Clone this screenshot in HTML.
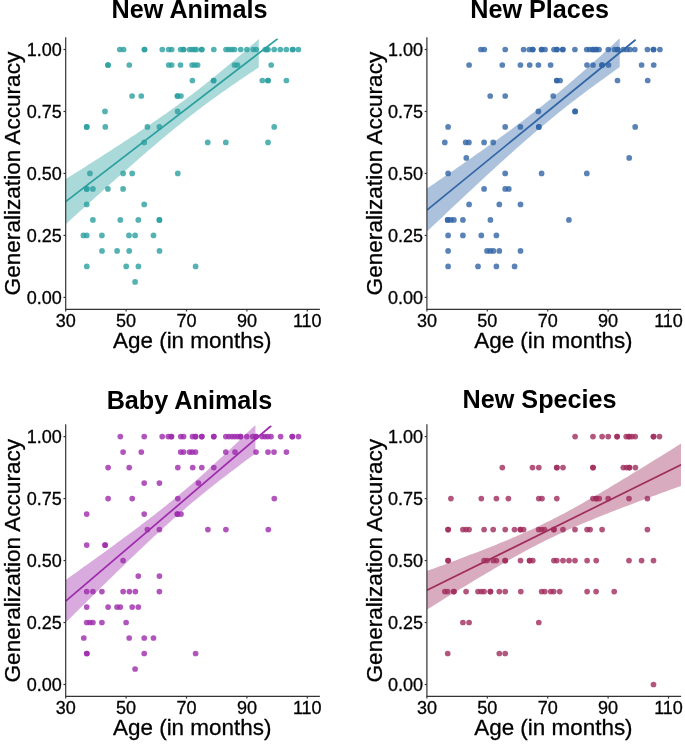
<!DOCTYPE html><html><head><meta charset="utf-8"><style>html,body{margin:0;padding:0;background:#fff;}svg{display:block;will-change:transform;}</style></head><body>
<svg width="685" height="744" viewBox="0 0 685 744" font-family='"Liberation Sans", sans-serif'>
<rect width="685" height="744" fill="#fff"/>
<clipPath id="cNewAnimals"><rect x="65.7" y="38.50" width="254.2" height="270.80"/></clipPath>
<g fill="#2A9F9F" fill-opacity="0.8">
<circle cx="201.7" cy="49.50" r="2.85"/>
<circle cx="266.5" cy="49.50" r="2.85"/>
<circle cx="119.8" cy="49.50" r="2.85"/>
<circle cx="123.6" cy="49.50" r="2.85"/>
<circle cx="144.5" cy="49.50" r="2.85"/>
<circle cx="144.5" cy="49.50" r="2.85"/>
<circle cx="162.3" cy="49.50" r="2.85"/>
<circle cx="168.7" cy="49.50" r="2.85"/>
<circle cx="171.7" cy="49.50" r="2.85"/>
<circle cx="180.6" cy="49.50" r="2.85"/>
<circle cx="183.5" cy="49.50" r="2.85"/>
<circle cx="183.5" cy="49.50" r="2.85"/>
<circle cx="189.5" cy="49.50" r="2.85"/>
<circle cx="192.1" cy="49.50" r="2.85"/>
<circle cx="194.6" cy="49.50" r="2.85"/>
<circle cx="196.2" cy="49.50" r="2.85"/>
<circle cx="201.7" cy="49.50" r="2.85"/>
<circle cx="213.8" cy="49.50" r="2.85"/>
<circle cx="226.0" cy="49.50" r="2.85"/>
<circle cx="228.9" cy="49.50" r="2.85"/>
<circle cx="231.8" cy="49.50" r="2.85"/>
<circle cx="234.5" cy="49.50" r="2.85"/>
<circle cx="240.7" cy="49.50" r="2.85"/>
<circle cx="246.9" cy="49.50" r="2.85"/>
<circle cx="253.3" cy="49.50" r="2.85"/>
<circle cx="256.2" cy="49.50" r="2.85"/>
<circle cx="265.3" cy="49.50" r="2.85"/>
<circle cx="268.0" cy="49.50" r="2.85"/>
<circle cx="274.2" cy="49.50" r="2.85"/>
<circle cx="280.3" cy="49.50" r="2.85"/>
<circle cx="286.3" cy="49.50" r="2.85"/>
<circle cx="292.7" cy="49.50" r="2.85"/>
<circle cx="292.7" cy="49.50" r="2.85"/>
<circle cx="298.4" cy="49.50" r="2.85"/>
<circle cx="108.0" cy="64.99" r="2.85"/>
<circle cx="108.0" cy="64.99" r="2.85"/>
<circle cx="129.3" cy="64.99" r="2.85"/>
<circle cx="168.7" cy="64.99" r="2.85"/>
<circle cx="171.7" cy="64.99" r="2.85"/>
<circle cx="180.5" cy="64.99" r="2.85"/>
<circle cx="192.1" cy="64.99" r="2.85"/>
<circle cx="194.8" cy="64.99" r="2.85"/>
<circle cx="197.6" cy="64.99" r="2.85"/>
<circle cx="234.5" cy="64.99" r="2.85"/>
<circle cx="237.5" cy="64.99" r="2.85"/>
<circle cx="271.2" cy="64.99" r="2.85"/>
<circle cx="192.4" cy="80.49" r="2.85"/>
<circle cx="213.6" cy="80.49" r="2.85"/>
<circle cx="213.6" cy="80.49" r="2.85"/>
<circle cx="262.3" cy="80.49" r="2.85"/>
<circle cx="268.0" cy="80.49" r="2.85"/>
<circle cx="268.0" cy="80.49" r="2.85"/>
<circle cx="286.4" cy="80.49" r="2.85"/>
<circle cx="132.1" cy="95.98" r="2.85"/>
<circle cx="141.3" cy="95.98" r="2.85"/>
<circle cx="177.5" cy="95.98" r="2.85"/>
<circle cx="177.5" cy="95.98" r="2.85"/>
<circle cx="180.9" cy="95.98" r="2.85"/>
<circle cx="105.0" cy="111.47" r="2.85"/>
<circle cx="177.6" cy="111.47" r="2.85"/>
<circle cx="86.7" cy="126.97" r="2.85"/>
<circle cx="86.7" cy="126.97" r="2.85"/>
<circle cx="105.3" cy="126.97" r="2.85"/>
<circle cx="147.4" cy="126.97" r="2.85"/>
<circle cx="159.4" cy="126.97" r="2.85"/>
<circle cx="274.2" cy="126.97" r="2.85"/>
<circle cx="144.2" cy="142.46" r="2.85"/>
<circle cx="207.7" cy="142.46" r="2.85"/>
<circle cx="225.8" cy="142.46" r="2.85"/>
<circle cx="268.0" cy="142.46" r="2.85"/>
<circle cx="89.9" cy="173.45" r="2.85"/>
<circle cx="123.1" cy="173.45" r="2.85"/>
<circle cx="132.2" cy="173.45" r="2.85"/>
<circle cx="177.8" cy="173.45" r="2.85"/>
<circle cx="86.7" cy="188.94" r="2.85"/>
<circle cx="86.7" cy="188.94" r="2.85"/>
<circle cx="92.9" cy="188.94" r="2.85"/>
<circle cx="107.9" cy="188.94" r="2.85"/>
<circle cx="123.1" cy="188.94" r="2.85"/>
<circle cx="86.7" cy="204.44" r="2.85"/>
<circle cx="144.2" cy="204.44" r="2.85"/>
<circle cx="92.9" cy="219.93" r="2.85"/>
<circle cx="120.3" cy="219.93" r="2.85"/>
<circle cx="138.3" cy="219.93" r="2.85"/>
<circle cx="159.4" cy="219.93" r="2.85"/>
<circle cx="159.4" cy="219.93" r="2.85"/>
<circle cx="83.4" cy="235.42" r="2.85"/>
<circle cx="86.7" cy="235.42" r="2.85"/>
<circle cx="101.9" cy="235.42" r="2.85"/>
<circle cx="129.0" cy="235.42" r="2.85"/>
<circle cx="135.1" cy="235.42" r="2.85"/>
<circle cx="153.5" cy="235.42" r="2.85"/>
<circle cx="102.0" cy="250.92" r="2.85"/>
<circle cx="117.1" cy="250.92" r="2.85"/>
<circle cx="129.2" cy="250.92" r="2.85"/>
<circle cx="159.5" cy="250.92" r="2.85"/>
<circle cx="86.8" cy="266.41" r="2.85"/>
<circle cx="126.2" cy="266.41" r="2.85"/>
<circle cx="138.4" cy="266.41" r="2.85"/>
<circle cx="195.6" cy="266.41" r="2.85"/>
<circle cx="135.1" cy="281.91" r="2.85"/>
</g>
<g clip-path="url(#cNewAnimals)">
<polygon points="65.70,179.09 68.11,177.58 70.53,176.05 72.94,174.53 75.36,173.01 77.77,171.48 80.18,169.96 82.60,168.43 85.01,166.90 87.42,165.37 89.84,163.83 92.25,162.30 94.67,160.76 97.08,159.22 99.49,157.67 101.91,156.13 104.32,154.58 106.73,153.03 109.15,151.48 111.56,149.92 113.98,148.36 116.39,146.80 118.80,145.23 121.22,143.66 123.63,142.08 126.04,140.51 128.46,138.92 130.87,137.33 133.29,135.74 135.70,134.14 138.11,132.54 140.53,130.93 142.94,129.31 145.35,127.69 147.77,126.06 150.18,124.42 152.60,122.77 155.01,121.12 157.42,119.46 159.84,117.78 162.25,116.10 164.66,114.41 167.08,112.71 169.49,111.00 171.91,109.27 174.32,107.54 176.73,105.79 179.15,104.03 181.56,102.26 183.97,100.47 186.39,98.67 188.80,96.86 191.22,95.03 193.63,93.19 196.04,91.34 198.46,89.47 200.87,87.59 203.28,85.69 205.70,83.78 208.11,81.86 210.53,79.92 212.94,77.97 215.35,76.01 217.77,74.04 220.18,72.05 222.59,70.05 225.01,68.05 227.42,66.03 229.84,64.00 232.25,61.96 234.66,59.92 237.08,57.86 239.49,55.80 241.90,53.72 244.32,51.64 246.73,49.56 249.15,47.47 251.56,45.37 253.97,43.26 256.39,41.15 258.80,39.03 258.80,67.45 256.39,69.04 253.97,70.64 251.56,72.25 249.15,73.86 246.73,75.48 244.32,77.10 241.90,78.73 239.49,80.37 237.08,82.01 234.66,83.67 232.25,85.33 229.84,87.00 227.42,88.69 225.01,90.38 222.59,92.08 220.18,93.79 217.77,95.52 215.35,97.25 212.94,99.00 210.53,100.76 208.11,102.53 205.70,104.32 203.28,106.12 200.87,107.94 198.46,109.76 196.04,111.60 193.63,113.46 191.22,115.33 188.80,117.21 186.39,119.11 183.97,121.02 181.56,122.94 179.15,124.88 176.73,126.83 174.32,128.79 171.91,130.77 169.49,132.75 167.08,134.75 164.66,136.76 162.25,138.78 159.84,140.81 157.42,142.85 155.01,144.89 152.60,146.95 150.18,149.01 147.77,151.09 145.35,153.17 142.94,155.25 140.53,157.34 138.11,159.44 135.70,161.55 133.29,163.66 130.87,165.78 128.46,167.90 126.04,170.03 123.63,172.16 121.22,174.29 118.80,176.43 116.39,178.57 113.98,180.72 111.56,182.87 109.15,185.02 106.73,187.18 104.32,189.34 101.91,191.50 99.49,193.67 97.08,195.83 94.67,198.00 92.25,200.17 89.84,202.35 87.42,204.52 85.01,206.70 82.60,208.88 80.18,211.06 77.77,213.25 75.36,215.43 72.94,217.62 70.53,219.80 68.11,221.99 65.70,224.18" fill="#2A9F9F" fill-opacity="0.4"/>
<line x1="65.70" y1="201.64" x2="277.80" y2="38.64" stroke="#2A9F9F" stroke-width="1.7"/>
</g>
<g stroke="#333" stroke-width="1.2" fill="none">
<path d="M65.70,37.20V309.30H319.90"/>
<path d="M63.50,297.40H65.70"/>
<path d="M63.50,235.42H65.70"/>
<path d="M63.50,173.45H65.70"/>
<path d="M63.50,111.47H65.70"/>
<path d="M63.50,49.50H65.70"/>
<path d="M65.70,309.30V311.50"/>
<path d="M126.10,309.30V311.50"/>
<path d="M186.50,309.30V311.50"/>
<path d="M246.90,309.30V311.50"/>
<path d="M307.30,309.30V311.50"/>
</g>
<g font-size="18" fill="#000" stroke="#000" stroke-width="0.3">
<text x="61.80" y="304.00" text-anchor="end">0.00</text>
<text x="61.80" y="242.02" text-anchor="end">0.25</text>
<text x="61.80" y="180.05" text-anchor="end">0.50</text>
<text x="61.80" y="118.07" text-anchor="end">0.75</text>
<text x="61.80" y="56.10" text-anchor="end">1.00</text>
<text x="65.70" y="326.60" text-anchor="middle">30</text>
<text x="126.10" y="326.60" text-anchor="middle">50</text>
<text x="186.50" y="326.60" text-anchor="middle">70</text>
<text x="246.90" y="326.60" text-anchor="middle">90</text>
<text x="307.30" y="326.60" text-anchor="middle">110</text>
</g>
<text x="192.20" y="347.80" font-size="22.45" stroke="#000" stroke-width="0.3" text-anchor="middle">Age (in months)</text>
<text transform="translate(20.40,173.60) rotate(-90)" font-size="22.6" stroke="#000" stroke-width="0.3" text-anchor="middle">Generalization Accuracy</text>
<text x="189.50" y="18.00" font-size="25.2" font-weight="bold" text-anchor="middle">New Animals</text>
<clipPath id="cNewPlaces"><rect x="426.9" y="38.50" width="254.2" height="270.80"/></clipPath>
<g fill="#3064A5" fill-opacity="0.8">
<circle cx="593.1" cy="49.50" r="2.85"/>
<circle cx="596.1" cy="49.50" r="2.85"/>
<circle cx="480.9" cy="49.50" r="2.85"/>
<circle cx="484.3" cy="49.50" r="2.85"/>
<circle cx="505.2" cy="49.50" r="2.85"/>
<circle cx="523.6" cy="49.50" r="2.85"/>
<circle cx="529.3" cy="49.50" r="2.85"/>
<circle cx="532.7" cy="49.50" r="2.85"/>
<circle cx="532.7" cy="49.50" r="2.85"/>
<circle cx="541.6" cy="49.50" r="2.85"/>
<circle cx="541.6" cy="49.50" r="2.85"/>
<circle cx="545.0" cy="49.50" r="2.85"/>
<circle cx="554.0" cy="49.50" r="2.85"/>
<circle cx="556.9" cy="49.50" r="2.85"/>
<circle cx="556.9" cy="49.50" r="2.85"/>
<circle cx="562.8" cy="49.50" r="2.85"/>
<circle cx="562.8" cy="49.50" r="2.85"/>
<circle cx="574.9" cy="49.50" r="2.85"/>
<circle cx="586.7" cy="49.50" r="2.85"/>
<circle cx="589.6" cy="49.50" r="2.85"/>
<circle cx="593.1" cy="49.50" r="2.85"/>
<circle cx="596.1" cy="49.50" r="2.85"/>
<circle cx="599.0" cy="49.50" r="2.85"/>
<circle cx="608.3" cy="49.50" r="2.85"/>
<circle cx="614.5" cy="49.50" r="2.85"/>
<circle cx="617.6" cy="49.50" r="2.85"/>
<circle cx="617.6" cy="49.50" r="2.85"/>
<circle cx="623.3" cy="49.50" r="2.85"/>
<circle cx="626.7" cy="49.50" r="2.85"/>
<circle cx="630.0" cy="49.50" r="2.85"/>
<circle cx="634.8" cy="49.50" r="2.85"/>
<circle cx="647.4" cy="49.50" r="2.85"/>
<circle cx="653.5" cy="49.50" r="2.85"/>
<circle cx="653.5" cy="49.50" r="2.85"/>
<circle cx="659.9" cy="49.50" r="2.85"/>
<circle cx="469.1" cy="64.99" r="2.85"/>
<circle cx="502.3" cy="64.99" r="2.85"/>
<circle cx="520.4" cy="64.99" r="2.85"/>
<circle cx="529.7" cy="64.99" r="2.85"/>
<circle cx="538.4" cy="64.99" r="2.85"/>
<circle cx="550.6" cy="64.99" r="2.85"/>
<circle cx="587.0" cy="64.99" r="2.85"/>
<circle cx="593.0" cy="64.99" r="2.85"/>
<circle cx="602.0" cy="64.99" r="2.85"/>
<circle cx="602.0" cy="64.99" r="2.85"/>
<circle cx="608.5" cy="64.99" r="2.85"/>
<circle cx="641.6" cy="64.99" r="2.85"/>
<circle cx="653.7" cy="64.99" r="2.85"/>
<circle cx="556.8" cy="80.49" r="2.85"/>
<circle cx="556.8" cy="80.49" r="2.85"/>
<circle cx="560.1" cy="80.49" r="2.85"/>
<circle cx="617.5" cy="80.49" r="2.85"/>
<circle cx="647.7" cy="80.49" r="2.85"/>
<circle cx="490.2" cy="95.98" r="2.85"/>
<circle cx="505.2" cy="95.98" r="2.85"/>
<circle cx="553.2" cy="95.98" r="2.85"/>
<circle cx="538.4" cy="111.47" r="2.85"/>
<circle cx="575.1" cy="111.47" r="2.85"/>
<circle cx="575.1" cy="111.47" r="2.85"/>
<circle cx="448.1" cy="126.97" r="2.85"/>
<circle cx="505.2" cy="126.97" r="2.85"/>
<circle cx="520.4" cy="126.97" r="2.85"/>
<circle cx="538.8" cy="126.97" r="2.85"/>
<circle cx="538.8" cy="126.97" r="2.85"/>
<circle cx="635.2" cy="126.97" r="2.85"/>
<circle cx="444.8" cy="142.46" r="2.85"/>
<circle cx="465.7" cy="142.46" r="2.85"/>
<circle cx="468.9" cy="142.46" r="2.85"/>
<circle cx="484.1" cy="142.46" r="2.85"/>
<circle cx="493.2" cy="142.46" r="2.85"/>
<circle cx="466.3" cy="157.96" r="2.85"/>
<circle cx="629.2" cy="157.96" r="2.85"/>
<circle cx="448.1" cy="173.45" r="2.85"/>
<circle cx="505.2" cy="173.45" r="2.85"/>
<circle cx="541.6" cy="173.45" r="2.85"/>
<circle cx="586.8" cy="173.45" r="2.85"/>
<circle cx="484.1" cy="188.94" r="2.85"/>
<circle cx="505.2" cy="188.94" r="2.85"/>
<circle cx="508.8" cy="188.94" r="2.85"/>
<circle cx="469.1" cy="204.44" r="2.85"/>
<circle cx="499.3" cy="204.44" r="2.85"/>
<circle cx="520.5" cy="204.44" r="2.85"/>
<circle cx="447.7" cy="219.93" r="2.85"/>
<circle cx="447.7" cy="219.93" r="2.85"/>
<circle cx="450.9" cy="219.93" r="2.85"/>
<circle cx="453.9" cy="219.93" r="2.85"/>
<circle cx="462.9" cy="219.93" r="2.85"/>
<circle cx="490.4" cy="219.93" r="2.85"/>
<circle cx="568.9" cy="219.93" r="2.85"/>
<circle cx="448.1" cy="235.42" r="2.85"/>
<circle cx="462.9" cy="235.42" r="2.85"/>
<circle cx="481.3" cy="235.42" r="2.85"/>
<circle cx="496.4" cy="235.42" r="2.85"/>
<circle cx="448.1" cy="250.92" r="2.85"/>
<circle cx="487.0" cy="250.92" r="2.85"/>
<circle cx="490.2" cy="250.92" r="2.85"/>
<circle cx="493.4" cy="250.92" r="2.85"/>
<circle cx="499.3" cy="250.92" r="2.85"/>
<circle cx="520.5" cy="250.92" r="2.85"/>
<circle cx="448.1" cy="266.41" r="2.85"/>
<circle cx="478.0" cy="266.41" r="2.85"/>
<circle cx="496.4" cy="266.41" r="2.85"/>
<circle cx="514.6" cy="266.41" r="2.85"/>
</g>
<g clip-path="url(#cNewPlaces)">
<polygon points="426.90,188.60 429.31,186.96 431.72,185.31 434.13,183.66 436.54,182.01 438.95,180.36 441.36,178.70 443.77,177.05 446.18,175.39 448.59,173.73 451.00,172.07 453.41,170.40 455.82,168.74 458.23,167.07 460.64,165.40 463.05,163.72 465.46,162.05 467.87,160.37 470.28,158.68 472.69,157.00 475.10,155.31 477.51,153.62 479.92,151.92 482.33,150.22 484.74,148.51 487.15,146.80 489.56,145.08 491.97,143.36 494.38,141.64 496.79,139.91 499.20,138.17 501.61,136.43 504.02,134.67 506.43,132.92 508.84,131.15 511.25,129.38 513.66,127.60 516.07,125.81 518.48,124.01 520.89,122.20 523.30,120.39 525.71,118.56 528.12,116.72 530.53,114.87 532.94,113.01 535.35,111.14 537.76,109.25 540.17,107.36 542.58,105.45 544.99,103.53 547.40,101.59 549.81,99.64 552.22,97.68 554.63,95.71 557.04,93.72 559.45,91.72 561.86,89.71 564.27,87.68 566.68,85.64 569.09,83.59 571.50,81.53 573.91,79.46 576.32,77.37 578.73,75.28 581.14,73.17 583.55,71.05 585.96,68.92 588.37,66.79 590.78,64.64 593.19,62.49 595.60,60.33 598.01,58.16 600.42,55.98 602.83,53.80 605.24,51.60 607.65,49.41 610.06,47.20 612.47,45.00 614.88,42.78 617.29,40.56 619.70,38.34 619.70,67.12 617.29,68.83 614.88,70.55 612.47,72.27 610.06,73.99 607.65,75.72 605.24,77.46 602.83,79.20 600.42,80.95 598.01,82.71 595.60,84.48 593.19,86.25 590.78,88.03 588.37,89.82 585.96,91.62 583.55,93.43 581.14,95.24 578.73,97.07 576.32,98.91 573.91,100.76 571.50,102.62 569.09,104.49 566.68,106.37 564.27,108.27 561.86,110.18 559.45,112.10 557.04,114.03 554.63,115.98 552.22,117.94 549.81,119.92 547.40,121.90 544.99,123.90 542.58,125.92 540.17,127.94 537.76,129.98 535.35,132.03 532.94,134.09 530.53,136.17 528.12,138.25 525.71,140.35 523.30,142.46 520.89,144.57 518.48,146.70 516.07,148.84 513.66,150.98 511.25,153.13 508.84,155.30 506.43,157.47 504.02,159.64 501.61,161.83 499.20,164.02 496.79,166.21 494.38,168.42 491.97,170.63 489.56,172.84 487.15,175.06 484.74,177.28 482.33,179.51 479.92,181.74 477.51,183.98 475.10,186.22 472.69,188.47 470.28,190.72 467.87,192.97 465.46,195.22 463.05,197.48 460.64,199.74 458.23,202.00 455.82,204.27 453.41,206.54 451.00,208.81 448.59,211.08 446.18,213.36 443.77,215.63 441.36,217.91 438.95,220.19 436.54,222.48 434.13,224.76 431.72,227.04 429.31,229.33 426.90,231.62" fill="#3064A5" fill-opacity="0.4"/>
<line x1="426.90" y1="210.11" x2="635.60" y2="39.75" stroke="#3064A5" stroke-width="1.7"/>
</g>
<g stroke="#333" stroke-width="1.2" fill="none">
<path d="M426.90,37.20V309.30H681.10"/>
<path d="M424.70,297.40H426.90"/>
<path d="M424.70,235.42H426.90"/>
<path d="M424.70,173.45H426.90"/>
<path d="M424.70,111.47H426.90"/>
<path d="M424.70,49.50H426.90"/>
<path d="M426.90,309.30V311.50"/>
<path d="M487.30,309.30V311.50"/>
<path d="M547.70,309.30V311.50"/>
<path d="M608.10,309.30V311.50"/>
<path d="M668.50,309.30V311.50"/>
</g>
<g font-size="18" fill="#000" stroke="#000" stroke-width="0.3">
<text x="423.00" y="304.00" text-anchor="end">0.00</text>
<text x="423.00" y="242.02" text-anchor="end">0.25</text>
<text x="423.00" y="180.05" text-anchor="end">0.50</text>
<text x="423.00" y="118.07" text-anchor="end">0.75</text>
<text x="423.00" y="56.10" text-anchor="end">1.00</text>
<text x="426.90" y="326.60" text-anchor="middle">30</text>
<text x="487.30" y="326.60" text-anchor="middle">50</text>
<text x="547.70" y="326.60" text-anchor="middle">70</text>
<text x="608.10" y="326.60" text-anchor="middle">90</text>
<text x="668.50" y="326.60" text-anchor="middle">110</text>
</g>
<text x="553.40" y="347.80" font-size="22.45" stroke="#000" stroke-width="0.3" text-anchor="middle">Age (in months)</text>
<text transform="translate(381.60,173.60) rotate(-90)" font-size="22.6" stroke="#000" stroke-width="0.3" text-anchor="middle">Generalization Accuracy</text>
<text x="539.60" y="18.00" font-size="25.2" font-weight="bold" text-anchor="middle">New Places</text>
<clipPath id="cBabyAnimals"><rect x="65.7" y="425.60" width="254.2" height="270.80"/></clipPath>
<g fill="#9E2AAC" fill-opacity="0.8">
<circle cx="201.8" cy="436.60" r="2.85"/>
<circle cx="213.8" cy="436.60" r="2.85"/>
<circle cx="120.3" cy="436.60" r="2.85"/>
<circle cx="144.2" cy="436.60" r="2.85"/>
<circle cx="162.2" cy="436.60" r="2.85"/>
<circle cx="168.3" cy="436.60" r="2.85"/>
<circle cx="171.4" cy="436.60" r="2.85"/>
<circle cx="171.4" cy="436.60" r="2.85"/>
<circle cx="180.8" cy="436.60" r="2.85"/>
<circle cx="183.6" cy="436.60" r="2.85"/>
<circle cx="192.5" cy="436.60" r="2.85"/>
<circle cx="195.5" cy="436.60" r="2.85"/>
<circle cx="195.5" cy="436.60" r="2.85"/>
<circle cx="201.8" cy="436.60" r="2.85"/>
<circle cx="213.8" cy="436.60" r="2.85"/>
<circle cx="225.8" cy="436.60" r="2.85"/>
<circle cx="228.9" cy="436.60" r="2.85"/>
<circle cx="232.0" cy="436.60" r="2.85"/>
<circle cx="234.8" cy="436.60" r="2.85"/>
<circle cx="237.8" cy="436.60" r="2.85"/>
<circle cx="240.5" cy="436.60" r="2.85"/>
<circle cx="240.5" cy="436.60" r="2.85"/>
<circle cx="246.8" cy="436.60" r="2.85"/>
<circle cx="252.7" cy="436.60" r="2.85"/>
<circle cx="256.0" cy="436.60" r="2.85"/>
<circle cx="256.0" cy="436.60" r="2.85"/>
<circle cx="262.0" cy="436.60" r="2.85"/>
<circle cx="265.0" cy="436.60" r="2.85"/>
<circle cx="267.8" cy="436.60" r="2.85"/>
<circle cx="271.0" cy="436.60" r="2.85"/>
<circle cx="280.6" cy="436.60" r="2.85"/>
<circle cx="292.3" cy="436.60" r="2.85"/>
<circle cx="292.3" cy="436.60" r="2.85"/>
<circle cx="298.5" cy="436.60" r="2.85"/>
<circle cx="123.1" cy="452.09" r="2.85"/>
<circle cx="141.3" cy="452.09" r="2.85"/>
<circle cx="180.7" cy="452.09" r="2.85"/>
<circle cx="183.6" cy="452.09" r="2.85"/>
<circle cx="189.5" cy="452.09" r="2.85"/>
<circle cx="192.2" cy="452.09" r="2.85"/>
<circle cx="195.5" cy="452.09" r="2.85"/>
<circle cx="225.8" cy="452.09" r="2.85"/>
<circle cx="235.0" cy="452.09" r="2.85"/>
<circle cx="256.0" cy="452.09" r="2.85"/>
<circle cx="268.0" cy="452.09" r="2.85"/>
<circle cx="274.0" cy="452.09" r="2.85"/>
<circle cx="286.4" cy="452.09" r="2.85"/>
<circle cx="108.1" cy="467.59" r="2.85"/>
<circle cx="129.2" cy="467.59" r="2.85"/>
<circle cx="177.8" cy="467.59" r="2.85"/>
<circle cx="192.7" cy="467.59" r="2.85"/>
<circle cx="201.8" cy="467.59" r="2.85"/>
<circle cx="213.8" cy="467.59" r="2.85"/>
<circle cx="144.2" cy="483.08" r="2.85"/>
<circle cx="159.4" cy="483.08" r="2.85"/>
<circle cx="198.4" cy="483.08" r="2.85"/>
<circle cx="108.1" cy="498.57" r="2.85"/>
<circle cx="132.2" cy="498.57" r="2.85"/>
<circle cx="177.8" cy="498.57" r="2.85"/>
<circle cx="274.3" cy="498.57" r="2.85"/>
<circle cx="86.7" cy="514.07" r="2.85"/>
<circle cx="144.2" cy="514.07" r="2.85"/>
<circle cx="177.4" cy="514.07" r="2.85"/>
<circle cx="177.4" cy="514.07" r="2.85"/>
<circle cx="181.0" cy="514.07" r="2.85"/>
<circle cx="147.4" cy="529.56" r="2.85"/>
<circle cx="159.4" cy="529.56" r="2.85"/>
<circle cx="207.9" cy="529.56" r="2.85"/>
<circle cx="225.9" cy="529.56" r="2.85"/>
<circle cx="268.3" cy="529.56" r="2.85"/>
<circle cx="86.7" cy="545.06" r="2.85"/>
<circle cx="105.1" cy="545.06" r="2.85"/>
<circle cx="105.1" cy="545.06" r="2.85"/>
<circle cx="123.1" cy="560.55" r="2.85"/>
<circle cx="138.3" cy="576.04" r="2.85"/>
<circle cx="159.4" cy="576.04" r="2.85"/>
<circle cx="86.7" cy="591.54" r="2.85"/>
<circle cx="92.9" cy="591.54" r="2.85"/>
<circle cx="101.9" cy="591.54" r="2.85"/>
<circle cx="123.1" cy="591.54" r="2.85"/>
<circle cx="129.4" cy="591.54" r="2.85"/>
<circle cx="135.4" cy="591.54" r="2.85"/>
<circle cx="159.4" cy="591.54" r="2.85"/>
<circle cx="86.7" cy="607.03" r="2.85"/>
<circle cx="108.1" cy="607.03" r="2.85"/>
<circle cx="117.0" cy="607.03" r="2.85"/>
<circle cx="120.3" cy="607.03" r="2.85"/>
<circle cx="132.2" cy="607.03" r="2.85"/>
<circle cx="138.3" cy="607.03" r="2.85"/>
<circle cx="86.7" cy="622.52" r="2.85"/>
<circle cx="89.9" cy="622.52" r="2.85"/>
<circle cx="92.9" cy="622.52" r="2.85"/>
<circle cx="101.9" cy="622.52" r="2.85"/>
<circle cx="126.1" cy="622.52" r="2.85"/>
<circle cx="83.8" cy="638.02" r="2.85"/>
<circle cx="129.2" cy="638.02" r="2.85"/>
<circle cx="144.2" cy="638.02" r="2.85"/>
<circle cx="153.5" cy="638.02" r="2.85"/>
<circle cx="86.8" cy="653.51" r="2.85"/>
<circle cx="86.8" cy="653.51" r="2.85"/>
<circle cx="144.2" cy="653.51" r="2.85"/>
<circle cx="195.6" cy="653.51" r="2.85"/>
<circle cx="135.1" cy="669.01" r="2.85"/>
</g>
<g clip-path="url(#cBabyAnimals)">
<polygon points="65.70,579.93 68.07,578.24 70.44,576.55 72.81,574.85 75.19,573.16 77.56,571.46 79.93,569.76 82.30,568.07 84.67,566.36 87.04,564.66 89.41,562.96 91.78,561.25 94.16,559.54 96.53,557.83 98.90,556.11 101.27,554.40 103.64,552.68 106.01,550.95 108.38,549.23 110.75,547.50 113.12,545.77 115.50,544.03 117.87,542.29 120.24,540.55 122.61,538.80 124.98,537.04 127.35,535.28 129.72,533.52 132.09,531.75 134.47,529.98 136.84,528.19 139.21,526.41 141.58,524.61 143.95,522.81 146.32,521.00 148.69,519.18 151.06,517.35 153.44,515.51 155.81,513.66 158.18,511.81 160.55,509.94 162.92,508.06 165.29,506.16 167.66,504.26 170.03,502.34 172.41,500.41 174.78,498.47 177.15,496.51 179.52,494.54 181.89,492.55 184.26,490.55 186.63,488.53 189.00,486.50 191.38,484.46 193.75,482.40 196.12,480.32 198.49,478.23 200.86,476.13 203.23,474.01 205.60,471.88 207.98,469.74 210.35,467.58 212.72,465.41 215.09,463.23 217.46,461.04 219.83,458.84 222.20,456.63 224.57,454.41 226.94,452.18 229.32,449.94 231.69,447.70 234.06,445.45 236.43,443.19 238.80,440.92 241.17,438.65 243.54,436.37 245.91,434.08 248.29,431.79 250.66,429.50 253.03,427.20 255.40,424.89 255.40,453.58 253.03,455.32 250.66,457.07 248.29,458.83 245.91,460.59 243.54,462.35 241.17,464.12 238.80,465.90 236.43,467.68 234.06,469.47 231.69,471.26 229.32,473.07 226.94,474.88 224.57,476.70 222.20,478.53 219.83,480.37 217.46,482.22 215.09,484.08 212.72,485.95 210.35,487.83 207.98,489.72 205.60,491.63 203.23,493.55 200.86,495.48 198.49,497.43 196.12,499.39 193.75,501.36 191.38,503.35 189.00,505.36 186.63,507.37 184.26,509.41 181.89,511.45 179.52,513.52 177.15,515.59 174.78,517.69 172.41,519.79 170.03,521.91 167.66,524.04 165.29,526.19 162.92,528.35 160.55,530.52 158.18,532.70 155.81,534.89 153.44,537.09 151.06,539.30 148.69,541.52 146.32,543.75 143.95,545.99 141.58,548.24 139.21,550.49 136.84,552.75 134.47,555.02 132.09,557.30 129.72,559.58 127.35,561.86 124.98,564.15 122.61,566.45 120.24,568.75 117.87,571.06 115.50,573.37 113.12,575.68 110.75,578.00 108.38,580.32 106.01,582.64 103.64,584.97 101.27,587.30 98.90,589.63 96.53,591.96 94.16,594.30 91.78,596.64 89.41,598.99 87.04,601.33 84.67,603.68 82.30,606.02 79.93,608.37 77.56,610.73 75.19,613.08 72.81,615.44 70.44,617.79 68.07,620.15 65.70,622.51" fill="#9E2AAC" fill-opacity="0.4"/>
<line x1="65.70" y1="601.22" x2="271.20" y2="425.74" stroke="#9E2AAC" stroke-width="1.7"/>
</g>
<g stroke="#333" stroke-width="1.2" fill="none">
<path d="M65.70,424.30V696.40H319.90"/>
<path d="M63.50,684.50H65.70"/>
<path d="M63.50,622.52H65.70"/>
<path d="M63.50,560.55H65.70"/>
<path d="M63.50,498.57H65.70"/>
<path d="M63.50,436.60H65.70"/>
<path d="M65.70,696.40V698.60"/>
<path d="M126.10,696.40V698.60"/>
<path d="M186.50,696.40V698.60"/>
<path d="M246.90,696.40V698.60"/>
<path d="M307.30,696.40V698.60"/>
</g>
<g font-size="18" fill="#000" stroke="#000" stroke-width="0.3">
<text x="61.80" y="691.10" text-anchor="end">0.00</text>
<text x="61.80" y="629.12" text-anchor="end">0.25</text>
<text x="61.80" y="567.15" text-anchor="end">0.50</text>
<text x="61.80" y="505.18" text-anchor="end">0.75</text>
<text x="61.80" y="443.20" text-anchor="end">1.00</text>
<text x="65.70" y="713.70" text-anchor="middle">30</text>
<text x="126.10" y="713.70" text-anchor="middle">50</text>
<text x="186.50" y="713.70" text-anchor="middle">70</text>
<text x="246.90" y="713.70" text-anchor="middle">90</text>
<text x="307.30" y="713.70" text-anchor="middle">110</text>
</g>
<text x="192.20" y="734.90" font-size="22.45" stroke="#000" stroke-width="0.3" text-anchor="middle">Age (in months)</text>
<text transform="translate(20.40,560.70) rotate(-90)" font-size="22.6" stroke="#000" stroke-width="0.3" text-anchor="middle">Generalization Accuracy</text>
<text x="189.50" y="408.50" font-size="25.2" font-weight="bold" text-anchor="middle">Baby Animals</text>
<clipPath id="cNewSpecies"><rect x="426.9" y="425.60" width="254.2" height="270.80"/></clipPath>
<g fill="#A02C5C" fill-opacity="0.8">
<circle cx="575.1" cy="436.60" r="2.85"/>
<circle cx="593.0" cy="436.60" r="2.85"/>
<circle cx="602.1" cy="436.60" r="2.85"/>
<circle cx="608.2" cy="436.60" r="2.85"/>
<circle cx="617.1" cy="436.60" r="2.85"/>
<circle cx="617.1" cy="436.60" r="2.85"/>
<circle cx="626.2" cy="436.60" r="2.85"/>
<circle cx="629.0" cy="436.60" r="2.85"/>
<circle cx="629.0" cy="436.60" r="2.85"/>
<circle cx="631.9" cy="436.60" r="2.85"/>
<circle cx="635.2" cy="436.60" r="2.85"/>
<circle cx="653.5" cy="436.60" r="2.85"/>
<circle cx="653.5" cy="436.60" r="2.85"/>
<circle cx="659.5" cy="436.60" r="2.85"/>
<circle cx="502.3" cy="467.59" r="2.85"/>
<circle cx="532.5" cy="467.59" r="2.85"/>
<circle cx="538.8" cy="467.59" r="2.85"/>
<circle cx="556.8" cy="467.59" r="2.85"/>
<circle cx="556.8" cy="467.59" r="2.85"/>
<circle cx="563.0" cy="467.59" r="2.85"/>
<circle cx="593.0" cy="467.59" r="2.85"/>
<circle cx="593.0" cy="467.59" r="2.85"/>
<circle cx="623.3" cy="467.59" r="2.85"/>
<circle cx="626.5" cy="467.59" r="2.85"/>
<circle cx="629.4" cy="467.59" r="2.85"/>
<circle cx="629.4" cy="467.59" r="2.85"/>
<circle cx="635.4" cy="467.59" r="2.85"/>
<circle cx="450.9" cy="498.57" r="2.85"/>
<circle cx="481.3" cy="498.57" r="2.85"/>
<circle cx="496.4" cy="498.57" r="2.85"/>
<circle cx="508.4" cy="498.57" r="2.85"/>
<circle cx="538.8" cy="498.57" r="2.85"/>
<circle cx="542.0" cy="498.57" r="2.85"/>
<circle cx="556.8" cy="498.57" r="2.85"/>
<circle cx="593.0" cy="498.57" r="2.85"/>
<circle cx="596.3" cy="498.57" r="2.85"/>
<circle cx="596.3" cy="498.57" r="2.85"/>
<circle cx="599.2" cy="498.57" r="2.85"/>
<circle cx="608.2" cy="498.57" r="2.85"/>
<circle cx="629.0" cy="498.57" r="2.85"/>
<circle cx="647.4" cy="498.57" r="2.85"/>
<circle cx="448.1" cy="529.56" r="2.85"/>
<circle cx="448.1" cy="529.56" r="2.85"/>
<circle cx="462.9" cy="529.56" r="2.85"/>
<circle cx="466.1" cy="529.56" r="2.85"/>
<circle cx="469.1" cy="529.56" r="2.85"/>
<circle cx="484.1" cy="529.56" r="2.85"/>
<circle cx="493.2" cy="529.56" r="2.85"/>
<circle cx="505.2" cy="529.56" r="2.85"/>
<circle cx="514.5" cy="529.56" r="2.85"/>
<circle cx="520.4" cy="529.56" r="2.85"/>
<circle cx="520.4" cy="529.56" r="2.85"/>
<circle cx="523.6" cy="529.56" r="2.85"/>
<circle cx="538.6" cy="529.56" r="2.85"/>
<circle cx="541.6" cy="529.56" r="2.85"/>
<circle cx="544.5" cy="529.56" r="2.85"/>
<circle cx="553.9" cy="529.56" r="2.85"/>
<circle cx="553.9" cy="529.56" r="2.85"/>
<circle cx="563.0" cy="529.56" r="2.85"/>
<circle cx="575.0" cy="529.56" r="2.85"/>
<circle cx="587.1" cy="529.56" r="2.85"/>
<circle cx="590.1" cy="529.56" r="2.85"/>
<circle cx="602.1" cy="529.56" r="2.85"/>
<circle cx="647.4" cy="529.56" r="2.85"/>
<circle cx="448.1" cy="560.55" r="2.85"/>
<circle cx="448.1" cy="560.55" r="2.85"/>
<circle cx="484.1" cy="560.55" r="2.85"/>
<circle cx="487.1" cy="560.55" r="2.85"/>
<circle cx="493.2" cy="560.55" r="2.85"/>
<circle cx="496.4" cy="560.55" r="2.85"/>
<circle cx="505.2" cy="560.55" r="2.85"/>
<circle cx="505.2" cy="560.55" r="2.85"/>
<circle cx="520.5" cy="560.55" r="2.85"/>
<circle cx="529.6" cy="560.55" r="2.85"/>
<circle cx="529.6" cy="560.55" r="2.85"/>
<circle cx="532.8" cy="560.55" r="2.85"/>
<circle cx="553.9" cy="560.55" r="2.85"/>
<circle cx="556.8" cy="560.55" r="2.85"/>
<circle cx="563.0" cy="560.55" r="2.85"/>
<circle cx="569.0" cy="560.55" r="2.85"/>
<circle cx="575.0" cy="560.55" r="2.85"/>
<circle cx="587.1" cy="560.55" r="2.85"/>
<circle cx="596.2" cy="560.55" r="2.85"/>
<circle cx="629.0" cy="560.55" r="2.85"/>
<circle cx="641.6" cy="560.55" r="2.85"/>
<circle cx="653.5" cy="560.55" r="2.85"/>
<circle cx="444.8" cy="591.54" r="2.85"/>
<circle cx="447.7" cy="591.54" r="2.85"/>
<circle cx="453.9" cy="591.54" r="2.85"/>
<circle cx="453.9" cy="591.54" r="2.85"/>
<circle cx="466.1" cy="591.54" r="2.85"/>
<circle cx="478.0" cy="591.54" r="2.85"/>
<circle cx="481.3" cy="591.54" r="2.85"/>
<circle cx="484.1" cy="591.54" r="2.85"/>
<circle cx="490.4" cy="591.54" r="2.85"/>
<circle cx="490.4" cy="591.54" r="2.85"/>
<circle cx="499.3" cy="591.54" r="2.85"/>
<circle cx="505.2" cy="591.54" r="2.85"/>
<circle cx="520.8" cy="591.54" r="2.85"/>
<circle cx="541.6" cy="591.54" r="2.85"/>
<circle cx="544.8" cy="591.54" r="2.85"/>
<circle cx="550.7" cy="591.54" r="2.85"/>
<circle cx="553.7" cy="591.54" r="2.85"/>
<circle cx="559.7" cy="591.54" r="2.85"/>
<circle cx="587.1" cy="591.54" r="2.85"/>
<circle cx="596.1" cy="591.54" r="2.85"/>
<circle cx="614.2" cy="591.54" r="2.85"/>
<circle cx="462.9" cy="622.52" r="2.85"/>
<circle cx="469.1" cy="622.52" r="2.85"/>
<circle cx="538.8" cy="622.52" r="2.85"/>
<circle cx="447.7" cy="653.51" r="2.85"/>
<circle cx="499.3" cy="653.51" r="2.85"/>
<circle cx="505.2" cy="653.51" r="2.85"/>
<circle cx="653.5" cy="684.50" r="2.85"/>
</g>
<g clip-path="url(#cNewSpecies)">
<polygon points="426.90,571.00 430.08,569.83 433.25,568.66 436.43,567.49 439.61,566.32 442.79,565.14 445.96,563.96 449.14,562.78 452.32,561.59 455.50,560.40 458.67,559.20 461.85,558.00 465.03,556.80 468.21,555.59 471.38,554.37 474.56,553.15 477.74,551.92 480.92,550.69 484.09,549.45 487.27,548.20 490.45,546.94 493.63,545.67 496.80,544.39 499.98,543.10 503.16,541.80 506.34,540.49 509.51,539.16 512.69,537.82 515.87,536.46 519.05,535.08 522.22,533.69 525.40,532.28 528.58,530.85 531.76,529.40 534.93,527.93 538.11,526.43 541.29,524.91 544.47,523.37 547.64,521.81 550.82,520.22 554.00,518.61 557.18,516.98 560.36,515.32 563.53,513.64 566.71,511.94 569.89,510.22 573.06,508.49 576.24,506.73 579.42,504.96 582.60,503.17 585.77,501.36 588.95,499.54 592.13,497.71 595.31,495.87 598.48,494.01 601.66,492.14 604.84,490.27 608.02,488.38 611.19,486.49 614.37,484.59 617.55,482.68 620.73,480.76 623.90,478.84 627.08,476.91 630.26,474.98 633.44,473.04 636.62,471.10 639.79,469.16 642.97,467.21 646.15,465.25 649.32,463.29 652.50,461.33 655.68,459.37 658.86,457.40 662.03,455.43 665.21,453.46 668.39,451.49 671.57,449.51 674.74,447.54 677.92,445.56 681.10,443.57 681.10,485.88 677.92,487.04 674.74,488.20 671.57,489.36 668.39,490.52 665.21,491.69 662.03,492.85 658.86,494.03 655.68,495.20 652.50,496.37 649.32,497.55 646.15,498.73 642.97,499.92 639.79,501.11 636.62,502.30 633.44,503.50 630.26,504.70 627.08,505.91 623.90,507.12 620.73,508.34 617.55,509.56 614.37,510.79 611.19,512.03 608.02,513.28 604.84,514.53 601.66,515.79 598.48,517.07 595.31,518.35 592.13,519.65 588.95,520.95 585.77,522.27 582.60,523.61 579.42,524.96 576.24,526.32 573.06,527.71 569.89,529.11 566.71,530.53 563.53,531.97 560.36,533.43 557.18,534.91 554.00,536.42 550.82,537.95 547.64,539.50 544.47,541.07 541.29,542.67 538.11,544.29 534.93,545.94 531.76,547.61 528.58,549.29 525.40,551.00 522.22,552.73 519.05,554.48 515.87,556.24 512.69,558.02 509.51,559.82 506.34,561.63 503.16,563.46 499.98,565.29 496.80,567.14 493.63,569.00 490.45,570.88 487.27,572.76 484.09,574.65 480.92,576.54 477.74,578.45 474.56,580.36 471.38,582.28 468.21,584.20 465.03,586.13 461.85,588.07 458.67,590.01 455.50,591.95 452.32,593.90 449.14,595.85 445.96,597.81 442.79,599.76 439.61,601.73 436.43,603.69 433.25,605.66 430.08,607.63 426.90,609.60" fill="#A02C5C" fill-opacity="0.4"/>
<line x1="426.90" y1="590.30" x2="681.10" y2="464.73" stroke="#A02C5C" stroke-width="1.7"/>
</g>
<g stroke="#333" stroke-width="1.2" fill="none">
<path d="M426.90,424.30V696.40H681.10"/>
<path d="M424.70,684.50H426.90"/>
<path d="M424.70,622.52H426.90"/>
<path d="M424.70,560.55H426.90"/>
<path d="M424.70,498.57H426.90"/>
<path d="M424.70,436.60H426.90"/>
<path d="M426.90,696.40V698.60"/>
<path d="M487.30,696.40V698.60"/>
<path d="M547.70,696.40V698.60"/>
<path d="M608.10,696.40V698.60"/>
<path d="M668.50,696.40V698.60"/>
</g>
<g font-size="18" fill="#000" stroke="#000" stroke-width="0.3">
<text x="423.00" y="691.10" text-anchor="end">0.00</text>
<text x="423.00" y="629.12" text-anchor="end">0.25</text>
<text x="423.00" y="567.15" text-anchor="end">0.50</text>
<text x="423.00" y="505.18" text-anchor="end">0.75</text>
<text x="423.00" y="443.20" text-anchor="end">1.00</text>
<text x="426.90" y="713.70" text-anchor="middle">30</text>
<text x="487.30" y="713.70" text-anchor="middle">50</text>
<text x="547.70" y="713.70" text-anchor="middle">70</text>
<text x="608.10" y="713.70" text-anchor="middle">90</text>
<text x="668.50" y="713.70" text-anchor="middle">110</text>
</g>
<text x="553.40" y="734.90" font-size="22.45" stroke="#000" stroke-width="0.3" text-anchor="middle">Age (in months)</text>
<text transform="translate(381.60,560.70) rotate(-90)" font-size="22.6" stroke="#000" stroke-width="0.3" text-anchor="middle">Generalization Accuracy</text>
<text x="539.60" y="408.40" font-size="25.2" font-weight="bold" text-anchor="middle">New Species</text>
</svg></body></html>
